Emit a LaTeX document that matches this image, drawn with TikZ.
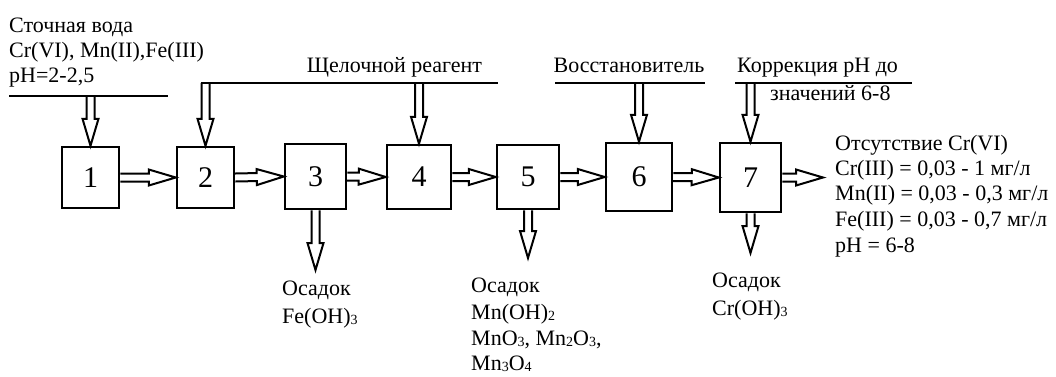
\documentclass[tikz,border=0pt]{standalone}
\usepackage{fontspec}
\setmainfont{Liberation Serif}
\usetikzlibrary{calc}
\newcommand\lowidx[1]{\raisebox{-0.12ex}{\fontsize{14}{14}\selectfont #1}}
\begin{document}
\begin{tikzpicture}[x=1pt,y=-1pt,
  blk/.style={draw,line width=2.5pt,inner sep=0pt,font=\fontsize{30}{30}\selectfont},
  lbl/.style={inner sep=0pt,anchor=base west,font=\fontsize{22}{22}\selectfont},
  clbl/.style={inner sep=0pt,anchor=base,font=\fontsize{22}{22}\selectfont},
  feed/.style={line width=2.5pt},
  fat/.style={line width=2pt, line join=miter,
    to path={let \p1=(\tikztostart), \p2=(\tikztotarget), \p3=($(\p2)!27pt!(\p1)$) in
      ($(\p1)!4pt!90:(\p2)$) -- ($(\p3)!4pt!-90:(\p1)$) -- ($(\p3)!8pt!-90:(\p1)$)
      -- (\p2) -- ($(\p3)!8pt!90:(\p1)$) -- ($(\p3)!4pt!90:(\p1)$) -- ($(\p1)!4pt!-90:(\p2)$)}}
]
\useasboundingbox (0,0) rectangle (1056,376);

% process blocks
\node[blk,minimum width=57,minimum height=61] (b1) at (90.5,177.5) {1};
\node[blk,minimum width=57,minimum height=61] (b2) at (205.5,177.5) {2};
\node[blk,minimum width=61,minimum height=65] (b3) at (315.5,176.5) {3};
\node[blk,minimum width=64,minimum height=64] (b4) at (419,177) {4};
\node[blk,minimum width=62,minimum height=64] (b5) at (528,177) {5};
\node[blk,minimum width=66,minimum height=68] (b6) at (639,177) {6};
\node[blk,minimum width=61,minimum height=69] (b7) at (750.5,177.5) {7};

% flow between blocks
\draw[fat] (b1.east) to (b2.west);
\draw[fat] (b2.east) to (b3.west);
\draw[fat] (b3.east) to (b4.west);
\draw[fat] (b4.east) to (b5.west);
\draw[fat] (b5.east) to (b6.west);
\draw[fat] (b6.east) to (b7.west);
\coordinate (out) at (823,177.5);
\draw[fat] (b7.east) to (out);

% waste water input
\node[lbl] (w1) at (9,32) {Сточная вода};
\node[lbl] (w2) at (9,57) {Cr(VI), Mn(II),Fe(III)};
\node[lbl] (w3) at (9,82) {pH=2-2,5};
\coordinate (wl) at (9,96);
\coordinate (wr) at (168,96);
\draw[feed] (wl) -- (wr);
\coordinate (in1) at (90.5,96);
\draw[fat] (in1) to (b1.north);

% alkaline reagent
\node[clbl] (alk) at (394.5,72) {Щелочной реагент};
\coordinate (al) at (200.5,83);
\coordinate (ar) at (498,83);
\draw[feed] (al) -- (ar);
\coordinate (in2) at (205.5,83);
\coordinate (in4) at (419,83);
\draw[fat] (in2) to (b2.north);
\draw[fat] (in4) to (b4.north);

% reducer
\node[clbl] (red) at (629,72) {Восстановитель};
\coordinate (rl) at (555,83);
\coordinate (rr) at (705,83);
\draw[feed] (rl) -- (rr);
\coordinate (in6) at (639,83);
\draw[fat] (in6) to (b6.north);

% pH correction
\node[lbl] (ph1) at (737,72) {Коррекция pH до};
\node[lbl] (ph2) at (770,100) {значений 6-8};
\coordinate (pl) at (735,83);
\coordinate (pr) at (912,83);
\draw[feed] (pl) -- (pr);
\coordinate (in7) at (750.5,83);
\draw[fat] (in7) to (b7.north);

% sludge outputs
\coordinate (s3) at (315.5,270);
\coordinate (s5) at (528,258);
\coordinate (s7) at (750.5,253);
\draw[fat] (b3.south) to (s3);
\draw[fat] (b5.south) to (s5);
\draw[fat] (b7.south) to (s7);

\node[lbl] (f1) at (282,295) {Осадок};
\node[lbl] (f2) at (282,323) {Fe(OH)\lowidx{3}};

\node[lbl] (m1) at (471,292) {Осадок};
\node[lbl] (m2) at (471,319) {Mn(OH)\lowidx{2}};
\node[lbl] (m3) at (471,345) {MnO\lowidx{3}, Mn\lowidx{2}O\lowidx{3},};
\node[lbl] (m4) at (471,370) {Mn\lowidx{3}O\lowidx{4}};

\node[lbl] (c1) at (712,287) {Осадок};
\node[lbl] (c2) at (712,315) {Cr(OH)\lowidx{3}};

% treated water
\node[lbl] (r1) at (835,150) {Отсутствие Cr(VI)};
\node[lbl] (r2) at (835,175) {Cr(III) = 0,03 - 1 мг/л};
\node[lbl] (r3) at (835,200.5) {Mn(II) = 0,03 - 0,3 мг/л};
\node[lbl] (r4) at (835,226.5) {Fe(III) = 0,03 - 0,7 мг/л};
\node[lbl] (r5) at (835,252) {pH = 6-8};
\end{tikzpicture}
\end{document}
